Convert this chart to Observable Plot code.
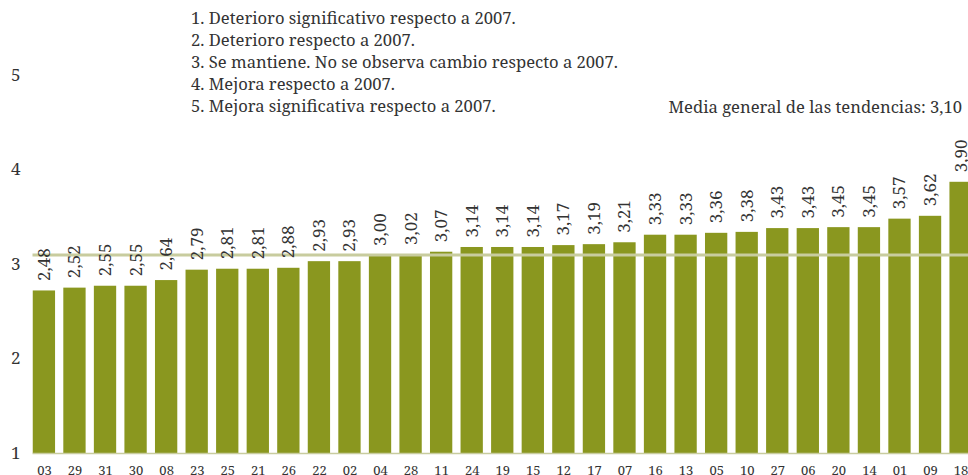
<!DOCTYPE html>
<html>
<head>
<meta charset="utf-8">
<script src="https://cdn.jsdelivr.net/npm/d3@7"></script>
<script src="https://cdn.jsdelivr.net/npm/@observablehq/plot@0.6"></script>
<style>
  html, body { margin: 0; padding: 0; background: #fff; overflow: hidden; }
  #wrap { position: relative; width: 968px; height: 475px; overflow: hidden; font-family: "Noto Serif", "DejaVu Serif", serif; color: #333; }
  #leyenda { position: absolute; left: 191px; top: 7px; font-size: 16.6px; line-height: 22.1px; white-space: nowrap; }
  #media { position: absolute; right: 6px; top: 96px; font-size: 16.6px; line-height: 22px; white-space: nowrap; }
  #chart { position: absolute; left: 0; top: 0; width: 980px; }
  #chart svg { max-width: none !important; }
  #chart [aria-label^="x-axis"] text { font-size: 13px; }
  #chart [aria-label^="y-axis"] text { font-size: 17px; }
</style>
</head>
<body>
<div id="wrap">
  <div id="chart"></div>
  <div id="leyenda"></div>
  <div id="media"></div>
</div>
<script>
// Códigos de provincia (orden del eje X)
const codigos = ["03","29","31","30","08","23","25","21","26","22","02","04","28","11","24","19","15","12","17","07","16","13","05","10","27","06","20","14","01","09","18"];
// Valor de la tendencia impreso sobre cada barra
const tendencias = [2.48,2.52,2.55,2.55,2.64,2.79,2.81,2.81,2.88,2.93,2.93,3.00,3.02,3.07,3.14,3.14,3.14,3.17,3.19,3.21,3.33,3.33,3.36,3.38,3.43,3.43,3.45,3.45,3.57,3.62,3.90];
// Altura de cada barra leída contra el eje (1-5) del gráfico original
const alturas = [2.72,2.75,2.77,2.77,2.83,2.94,2.95,2.95,2.96,3.03,3.03,3.09,3.10,3.13,3.18,3.18,3.18,3.20,3.21,3.23,3.31,3.31,3.33,3.34,3.38,3.38,3.39,3.39,3.48,3.51,3.87];
const media = 3.10;
const base = 1;
const yTicks = [1, 2, 3, 4, 5];
const leyenda = [
  "1. Deterioro significativo respecto a 2007.",
  "2. Deterioro respecto a 2007.",
  "3. Se mantiene. No se observa cambio respecto a 2007.",
  "4. Mejora respecto a 2007.",
  "5. Mejora significativa respecto a 2007."
];
const textoMedia = "Media general de las tendencias: 3,10";

const fmt = v => v.toFixed(2).replace(".", ",");
const data = codigos.map((c, i) => ({codigo: c, tendencia: tendencias[i], altura: alturas[i]}));

const chart = Plot.plot({
  width: 980,
  height: 475,
  marginLeft: 24.5,
  marginRight: 0,
  marginTop: 75,
  marginBottom: 22,
  style: {fontFamily: "Noto Serif, DejaVu Serif, serif", fontSize: "17px", color: "#333", background: "transparent"},
  x: {domain: codigos, padding: 0.27, round: false, tickSize: 0, tickPadding: 12.5, label: null},
  y: {domain: [1, 5], ticks: yTicks, tickSize: 0, tickPadding: 4.5, tickFormat: d => String(d), label: null},
  marks: [
    Plot.barY(data, {x: "codigo", y1: base, y2: "altura", fill: "#8a971f"}),
    Plot.ruleY([base], {stroke: "#c8cc9e", strokeWidth: 1.5, insetLeft: 8}),
    Plot.ruleY([media], {stroke: "#c8cc9e", strokeWidth: 3, insetLeft: 8}),
    Plot.text(data, {x: "codigo", y: "altura", text: d => fmt(d.tendencia), rotate: -90, textAnchor: "start", dy: -10, fontSize: 17, fill: "#333"})
  ]
});
document.getElementById("chart").appendChild(chart);
document.getElementById("leyenda").innerHTML = leyenda.map(t => `<div>${t}</div>`).join("");
document.getElementById("media").textContent = textoMedia;
</script>
</body>
</html>
